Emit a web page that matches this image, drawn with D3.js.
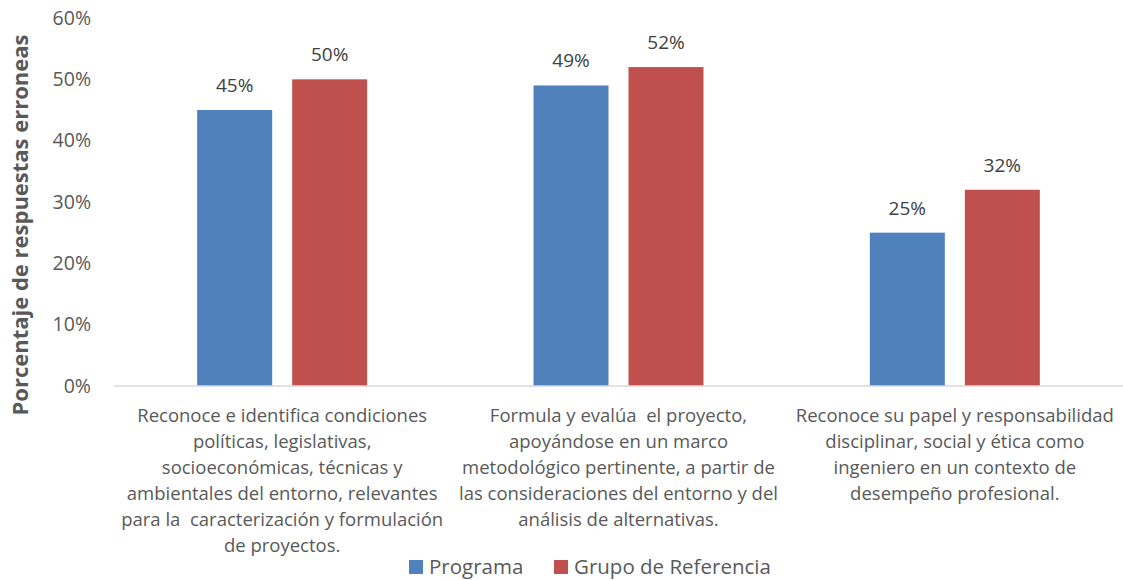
<!DOCTYPE html>
<html>
<head>
<meta charset="utf-8">
<script src="https://cdn.jsdelivr.net/npm/d3@7"></script>
<style>
  body { margin: 0; background: #fff; }
  text { font-family: "Open Sans", sans-serif; }
</style>
</head>
<body>
<script>
var categories = [
    ["Reconoce e identifica condiciones", "políticas, legislativas,", "socioeconómicas, técnicas y", "ambientales del entorno, relevantes", "para la  caracterización y formulación", "de proyectos."],
    ["Formula y evalúa  el proyecto,", "apoyándose en un marco", "metodológico pertinente, a partir de", "las consideraciones del entorno y del", "análisis de alternativas."],
    ["Reconoce su papel y responsabilidad", "disciplinar, social y ética como", "ingeniero en un contexto de", "desempeño profesional."]
];
var seriesNames = ["Programa", "Grupo de Referencia"];
var programa = [45, 49, 25];
var referencia = [50, 52, 32];
var yTicks = [0, 10, 20, 30, 40, 50, 60];

var width = 1123, height = 580;
var margin = {top: 18, right: 0, bottom: 194, left: 114};
var colors = ["#4F81BD", "#C0504D"];

var svg = d3.select("body").append("svg")
    .attr("width", width)
    .attr("height", height);

var x = d3.scaleBand()
    .domain(d3.range(categories.length))
    .range([margin.left, width - margin.right]);

// two bars of 75px with a 20px gap, centred in each band
var x1 = d3.scaleBand()
    .domain([0, 1])
    .range([x.bandwidth() / 2 - 85, x.bandwidth() / 2 + 85])
    .paddingInner(20 / 95);

var y = d3.scaleLinear()
    .domain([0, 60])
    .range([height - margin.bottom, margin.top]);

// Y axis tick labels
svg.append("g")
    .selectAll("text")
    .data(yTicks)
    .enter()
    .append("text")
    .attr("x", 91)
    .attr("y", function(d) { return y(d); })
    .attr("dy", "0.35em")
    .attr("text-anchor", "end")
    .style("font-size", "19.5px")
    .style("fill", "#595959")
    .text(function(d) { return d + "%"; });

// Axis title
svg.append("text")
    .attr("transform", "translate(28," + 225 + ") rotate(-90)")
    .attr("text-anchor", "middle")
    .style("font-size", "22px")
    .style("font-weight", "bold")
    .style("fill", "#595959")
    .text("Porcentaje de respuestas erroneas");

// Bars
var rows = categories.map(function(c, i) { return [programa[i], referencia[i]]; });

var groups = svg.append("g")
    .selectAll("g")
    .data(rows)
    .enter()
    .append("g")
    .attr("transform", function(d, i) { return "translate(" + x(i) + ",0)"; });

groups.selectAll("rect")
    .data(function(d) { return d; })
    .enter()
    .append("rect")
    .attr("x", function(d, j) { return x1(j); })
    .attr("y", function(d) { return y(d); })
    .attr("width", x1.bandwidth())
    .attr("height", function(d) { return y(0) - y(d); })
    .attr("fill", function(d, j) { return colors[j]; });

groups.selectAll("text")
    .data(function(d) { return d; })
    .enter()
    .append("text")
    .attr("x", function(d, j) { return x1(j) + x1.bandwidth() / 2; })
    .attr("y", function(d) { return y(d) - 18; })
    .attr("text-anchor", "middle")
    .style("font-size", "19px")
    .style("fill", "#404040")
    .text(function(d) { return d + "%"; });

// Baseline
svg.append("line")
    .attr("x1", margin.left)
    .attr("x2", width - margin.right)
    .attr("y1", y(0))
    .attr("y2", y(0))
    .style("stroke", "#D9D9D9")
    .style("stroke-width", 1.5);

// Category labels
svg.append("g")
    .selectAll("text")
    .data(categories)
    .enter()
    .append("text")
    .attr("text-anchor", "middle")
    .style("font-size", "18.5px")
    .style("fill", "#595959")
    .style("white-space", "pre")
    .each(function(d, i) {
        var t = d3.select(this);
        d.forEach(function(line, k) {
            t.append("tspan")
                .attr("x", x(i) + x.bandwidth() / 2)
                .attr("y", y(0) + 36 + k * 26)
                .text(line);
        });
    });

// Legend
var legendItems = [{x: 409, name: seriesNames[0]}, {x: 554, name: seriesNames[1]}];
var legend = svg.append("g")
    .selectAll("g")
    .data(legendItems)
    .enter()
    .append("g");

legend.append("rect")
    .attr("x", function(d) { return d.x; })
    .attr("y", 560)
    .attr("width", 14)
    .attr("height", 14)
    .attr("fill", function(d, i) { return colors[i]; });

legend.append("text")
    .attr("x", function(d) { return d.x + 20; })
    .attr("y", 574)
    .style("font-size", "20.5px")
    .style("fill", "#595959")
    .text(function(d) { return d.name; });
</script>
</body>
</html>
